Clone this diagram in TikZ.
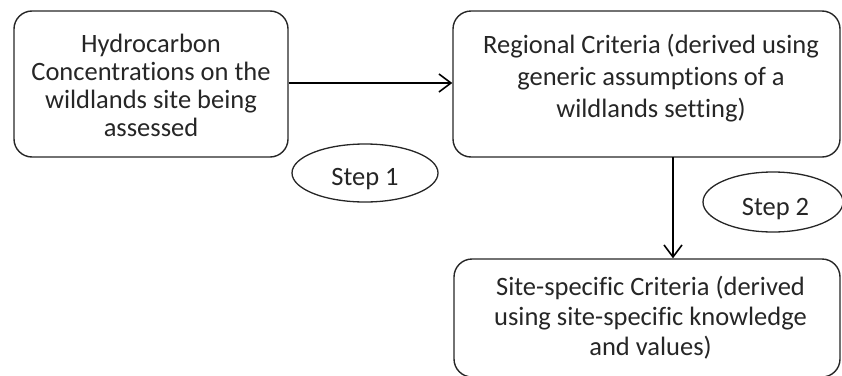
\documentclass[tikz,border=0pt]{standalone}
\usepackage{fontspec}
\setmainfont[Ligatures={NoCommon}]{Carlito}
\usetikzlibrary{arrows.meta,shapes.geometric}
\tikzset{
  box/.style={draw=black!85, line width=1.4pt, rounded corners=18pt, inner sep=0pt},
  txt/.style={align=center, text=black!85, inner sep=0pt, anchor=base},
  stepoval/.style={draw=black!85, line width=1.3pt, ellipse, inner sep=0pt},
  steptxt/.style={text=black!85, font=\fontsize{26.5}{30}\selectfont, inner sep=0pt, anchor=base},
  flow/.style={draw=black, line width=1.6pt, -{Straight Barb[length=12pt,width=18pt,line width=1.6pt]}}
}
\begin{document}
\begin{tikzpicture}[x=1pt,y=-1pt]
  \useasboundingbox (0,0) rectangle (842,375);
  % boxes
  \node[box, minimum width=274pt, minimum height=146pt] (b1) at (151,84) {};
  \node[box, minimum width=387pt, minimum height=146pt] (b2) at (646.5,84) {};
  \node[box, minimum width=386pt, minimum height=118pt] (b3) at (647,318) {};
  % box texts (anchored at the baseline of the last line)
  \node[txt, font=\fontsize{26.5}{28}\selectfont] (t1) at (151,136)
    {Hydrocarbon\\Concentrations on the\\wildlands site being\\assessed};
  \node[txt, font=\fontsize{26.5}{32}\selectfont] (t2) at (651,117)
    {Regional Criteria (derived using\\generic assumptions of a\\wildlands setting)};
  \node[txt, font=\fontsize{26.5}{30}\selectfont] (t3) at (650.5,355)
    {Site-specific Criteria (derived\\using site-specific knowledge\\and values)};
  % step labels
  \node[stepoval, minimum width=146pt, minimum height=58pt] (s1) at (365,173) {};
  \node[steptxt] (l1) at (365,185) {Step 1};
  \node[stepoval, minimum width=140pt, minimum height=60pt] (s2) at (773,202) {};
  \node[steptxt] (l2) at (775.5,215) {Step 2};
  % connectors
  \draw[flow] (b1.east |- 0,83) -- (b2.west |- 0,83);
  \draw[flow] (673,157) coordinate (c1) -- (c1 |- b3.north);
\end{tikzpicture}
\end{document}
